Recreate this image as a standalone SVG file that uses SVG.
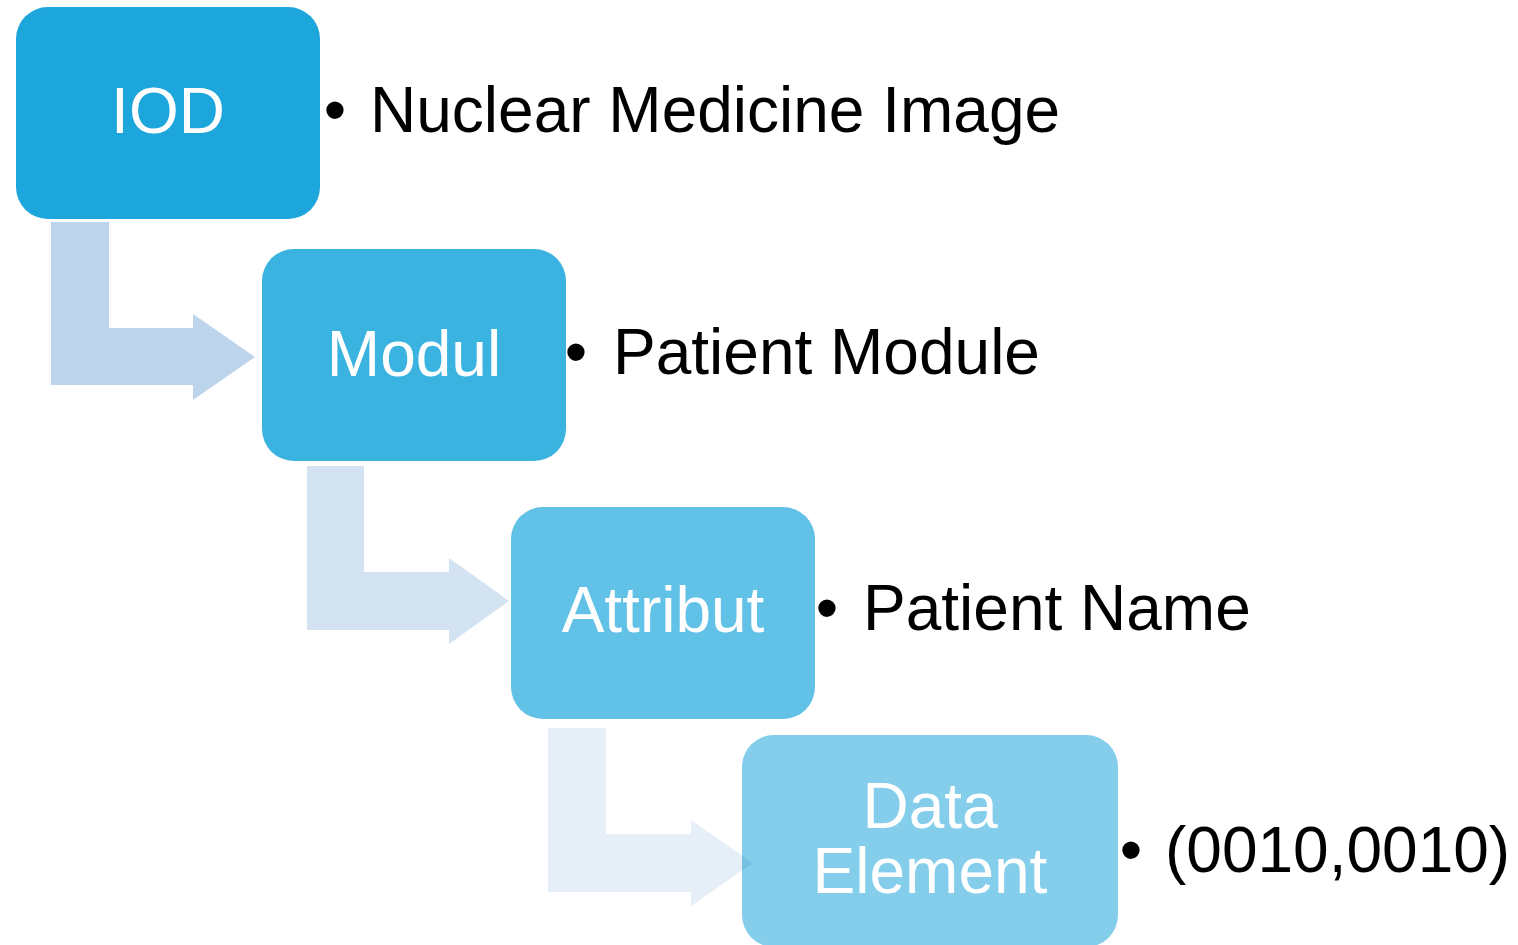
<svg xmlns="http://www.w3.org/2000/svg" width="1518" height="945" viewBox="0 0 1518 945">
  <style>
    .box { stroke: none; }
    .lbl { font-family: "Liberation Sans", Arial, sans-serif; font-size: 64px; fill: #ffffff; text-anchor: middle; }
    .txt { font-family: "Liberation Sans", Arial, sans-serif; font-size: 64px; fill: #000000; }
    .bul { font-family: "Liberation Sans", Arial, sans-serif; font-size: 64px; fill: #000000; text-anchor: middle; }
    .conn { mix-blend-mode: multiply; }
  </style>
  <rect width="1518" height="945" fill="#ffffff"/>

  <!-- hierarchy levels -->
  <g id="node-iod">
    <rect class="box" x="16" y="7" width="304" height="212" rx="32" fill="#1DA6DB"/>
    <text class="lbl" x="168" y="133">IOD</text>
    <text class="bul" x="335" y="132">•</text>
    <text class="txt" x="370" y="132">Nuclear Medicine Image</text>
  </g>
  <g id="node-modul">
    <rect class="box" x="262" y="249" width="304" height="212" rx="32" fill="#3BB3E0"/>
    <text class="lbl" x="414" y="376">Modul</text>
    <text class="bul" x="576" y="374">•</text>
    <text class="txt" x="613" y="374">Patient Module</text>
  </g>
  <g id="node-attribut">
    <rect class="box" x="511" y="507" width="304" height="212" rx="32" fill="#62C1E7"/>
    <text class="lbl" x="663" y="632">Attribut</text>
    <text class="bul" x="827" y="630">•</text>
    <text class="txt" x="863" y="630">Patient Name</text>
  </g>
  <g id="node-data-element">
    <rect class="box" x="742" y="735" width="376" height="212" rx="32" fill="#84CDEB"/>
    <text class="lbl" x="930" y="828">Data</text>
    <text class="lbl" x="930" y="893">Element</text>
    <text class="bul" x="1131" y="872">•</text>
    <text class="txt" x="1165" y="872">(0010,0010)</text>
  </g>

  <!-- bent arrows between levels -->
  <g id="connectors" class="conn">
    <polygon points="51,222 109,222 109,328 193,328 193,314 255,357 193,400 193,385 51,385" fill="#BDD5EC"/>
    <polygon points="307,466 364,466 364,572 449,572 449,558 509,601 449,644 449,630 307,630" fill="#D3E3F2"/>
    <polygon points="548,728 606,728 606,834 691,834 691,820 753,863 691,906 691,892 548,892" fill="#E6EFF8"/>
  </g>
</svg>
